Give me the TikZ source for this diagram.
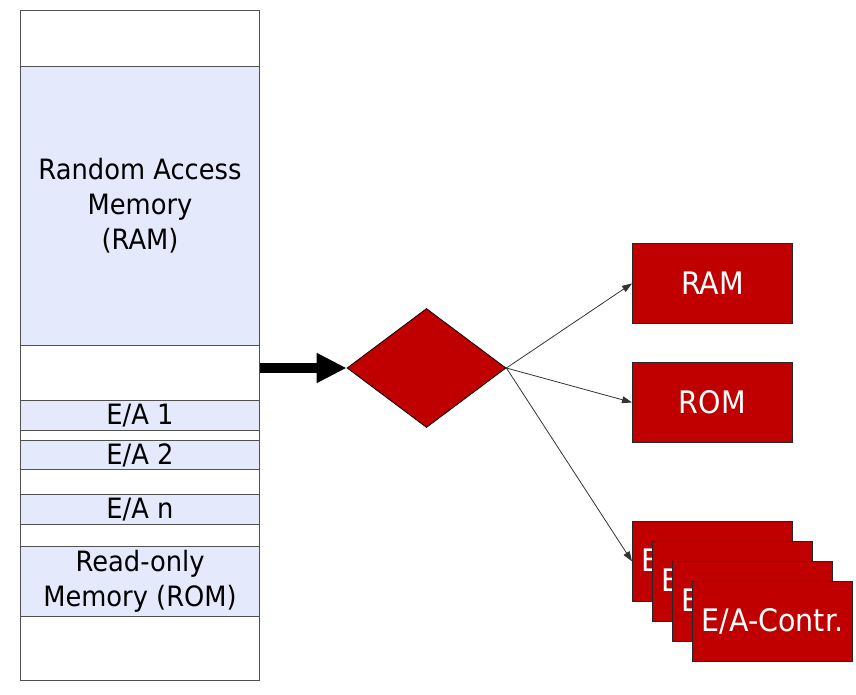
\documentclass[tikz,border=0pt]{standalone}
\usepackage{fontspec}
\setmainfont{DejaVu Sans}[FakeStretch=0.92]
\usetikzlibrary{shapes.geometric,arrows.meta,calc}
\definecolor{memblue}{HTML}{E4EAFC}
\definecolor{boxred}{HTML}{C00000}
\definecolor{edgegray}{HTML}{505050}
\begin{document}
\begin{tikzpicture}[x=1pt,y=-1pt,
  seg/.style={draw=edgegray,line width=1pt,fill=memblue,anchor=north west,inner sep=0pt,
    minimum width=239pt,align=center,font=\fontsize{28}{35}\selectfont},
  redbox/.style={draw=black!85,line width=0.8pt,fill=boxred,anchor=north west,inner sep=0pt,
    minimum width=160pt,minimum height=80pt,text=white,font=\fontsize{31}{36}\selectfont},
  thin/.style={draw=black!80,line width=0.8pt,-{Triangle[length=10pt,width=7pt]}},
]
\useasboundingbox (0,0) rectangle (856,695);
% memory column
\node[draw=edgegray,line width=1pt,fill=white,anchor=north west,inner sep=0pt,
  minimum width=239pt,minimum height=670pt] (col) at (20,10) {};
\node[seg,minimum height=279pt] (ramseg) at (20,66) {Random Access\\Memory\\(RAM)};
\node[seg,minimum height=30pt] (ea1) at (20,400) {E/A 1};
\node[seg,minimum height=29pt] (ea2) at (20,440) {E/A 2};
\node[seg,minimum height=30pt] (ean) at (20,494) {E/A n};
\node[seg,minimum height=70pt] (romseg) at (20,546) {Read-only\\Memory (ROM)};
% decoder diamond
\node[diamond,draw=black,line width=0.8pt,fill=boxred,inner sep=0pt,
  minimum width=159pt,minimum height=119pt] (dia) at (426.5,368) {};
% targets
\node[redbox] (ram) at (632,243) {RAM};
\node[redbox] (rom) at (632,362) {ROM};
\node[redbox] (io1) at (632,521) {E/A-Contr.};
\node[redbox] (io2) at (652,541) {E/A-Contr.};
\node[redbox] (io3) at (672,561) {E/A-Contr.};
\node[redbox] (io4) at (692,581) {E/A-Contr.};
% arrows
\draw[line width=10pt,-{Triangle[length=30pt,width=28pt]}] (dia.west -| col.east) -- (dia.west);
\draw[thin] (dia.east) -- (ram.west);
\draw[thin] (dia.east) -- (rom.west);
\draw[thin] (dia.east) -- (io1.west);
\end{tikzpicture}
\end{document}
